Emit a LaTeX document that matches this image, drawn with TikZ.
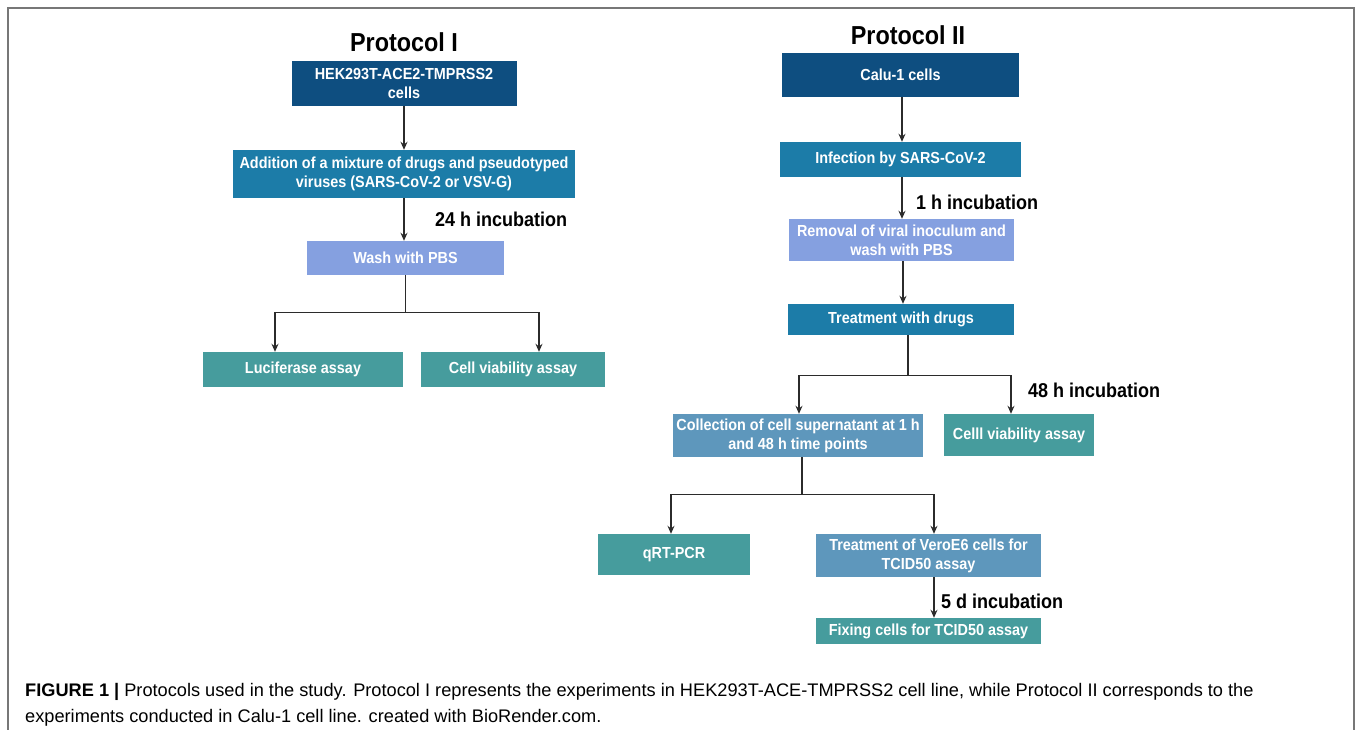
\documentclass[tikz,border=0pt]{standalone}
\usepackage{fontspec}
\setmainfont{Liberation Sans}
\newfontfamily\boxfont[FakeStretch=0.9]{Liberation Sans}
\usetikzlibrary{arrows.meta,positioning}

\definecolor{darkblue}{HTML}{0E4E80}
\definecolor{midblue}{HTML}{1C7CA8}
\definecolor{lightblue}{HTML}{85A0E0}
\definecolor{greyblue}{HTML}{5E97BC}
\definecolor{assaygreen}{HTML}{469C9D}
\definecolor{arrowgrey}{HTML}{2B2B2B}
\definecolor{framegrey}{HTML}{777777}

\begin{document}
\begin{tikzpicture}[x=1pt,y=-1pt,
    stepbox/.style={rectangle, text=white, align=center, inner sep=0pt,
        font=\boxfont\bfseries\fontsize{16}{19}\selectfont},
    protitle/.style={font=\boxfont\bfseries\fontsize{26}{30}\selectfont},
    incub/.style={anchor=west, inner sep=0pt, font=\boxfont\bfseries\fontsize{20}{24}\selectfont},
    link/.style={draw=arrowgrey, line width=1.3pt},
    flow/.style={link, -{Stealth[length=8pt,width=7pt]}}]
    \useasboundingbox (0,0) rectangle (1355,730);
    \clip (0,0) rectangle (1355,730);

    % frame
    \draw[framegrey, line width=1.5pt] (8,740) -- (8,8) -- (1354,8) -- (1354,740);

    % Protocol I
    \node[protitle] (titleA) at (404,42) {Protocol I};
    \node[stepbox, fill=darkblue, minimum width=225, minimum height=45] (hek) at (404,83.5) {HEK293T-ACE2-TMPRSS2\\cells};
    \node[stepbox, fill=midblue, minimum width=342, minimum height=48] (mix) at (404,174) {Addition of a mixture of drugs and pseudotyped\\viruses (SARS-CoV-2 or VSV-G)};
    \node[stepbox, fill=lightblue, minimum width=197, minimum height=34] (wash) at (405.5,258) {Wash with PBS};
    \node[stepbox, fill=assaygreen, minimum width=200, minimum height=35] (luc) at (303,369.5) {Luciferase assay};
    \node[stepbox, fill=assaygreen, minimum width=184, minimum height=35] (viabA) at (513,369.5) {Cell viability assay};
    \node[incub] (incA) at (435,219) {24 h incubation};

    \draw[flow] (hek.south) -- (hek.south |- mix.north);
    \draw[flow] (mix.south) -- (mix.south |- wash.north);
    \draw[link] (wash.south) -- ++(0,37) coordinate (forkA);
    \draw[flow] (forkA) -| ([xshift=-28pt]luc.north);
    \draw[flow] (forkA) -| ([xshift=26pt]viabA.north);

    % Protocol II
    \node[protitle] (titleB) at (908,35) {Protocol II};
    \node[stepbox, fill=darkblue, minimum width=237, minimum height=44] (calu) at (900.5,75) {Calu-1 cells};
    \node[stepbox, fill=midblue, minimum width=241, minimum height=35] (infect) at (900.5,159.5) {Infection by SARS-CoV-2};
    \node[stepbox, fill=lightblue, minimum width=225, minimum height=42] (removal) at (901.5,240) {Removal of viral inoculum and\\wash with PBS};
    \node[stepbox, fill=midblue, minimum width=226, minimum height=31] (treat) at (901,319.5) {Treatment with drugs};
    \node[stepbox, fill=greyblue, minimum width=250, minimum height=43] (collect) at (798,435.5) {Collection of cell supernatant at 1 h\\and 48 h time points};
    \node[stepbox, fill=assaygreen, minimum width=150, minimum height=42] (viabB) at (1019,435) {Celll viability assay};
    \node[stepbox, fill=assaygreen, minimum width=152, minimum height=41] (qpcr) at (674,554.5) {qRT-PCR};
    \node[stepbox, fill=greyblue, minimum width=225, minimum height=43] (vero) at (928.5,555.5) {Treatment of VeroE6 cells for\\TCID50 assay};
    \node[stepbox, fill=assaygreen, minimum width=225, minimum height=26] (fixing) at (928.5,631) {Fixing cells for TCID50 assay};
    \node[incub] (incB) at (916,202) {1 h incubation};
    \node[incub] (incC) at (1028,390) {48 h incubation};
    \node[incub] (incD) at (941,601) {5 d incubation};

    \draw[flow] ([xshift=1.5pt]calu.south) -- ([xshift=1.5pt]calu.south |- infect.north);
    \draw[flow] ([xshift=1.5pt]infect.south) -- ([xshift=1.5pt]infect.south |- removal.north);
    \draw[flow] ([xshift=1.5pt]removal.south) -- ([xshift=1.5pt]removal.south |- treat.north);
    \draw[link] ([xshift=7pt]treat.south) -- ++(0,40) coordinate (forkB);
    \draw[flow] (forkB) -| ([xshift=1pt]collect.north);
    \draw[flow] (forkB) -| ([xshift=-8pt]viabB.north);
    \draw[link] ([xshift=4pt]collect.south) -- ++(0,37) coordinate (forkC);
    \draw[flow] (forkC) -| ([xshift=-3pt]qpcr.north);
    \draw[flow] (forkC) -| ([xshift=5.5pt]vero.north);
    \draw[flow] ([xshift=5.5pt]vero.south) -- ([xshift=5.5pt]vero.south |- fixing.north);

    % caption
    \node[anchor=base west, inner sep=0pt, font=\fontsize{18.2}{22}\selectfont] (capA) at (25,696) {\textbf{FIGURE 1 |} Protocols used in the study. Protocol I represents the experiments in HEK293T-ACE-TMPRSS2 cell line, while Protocol II corresponds to the};
    \node[anchor=base west, inner sep=0pt, font=\fontsize{18.2}{22}\selectfont] (capB) at (25,722) {experiments conducted in Calu-1 cell line. created with BioRender.com.};
\end{tikzpicture}
\end{document}
